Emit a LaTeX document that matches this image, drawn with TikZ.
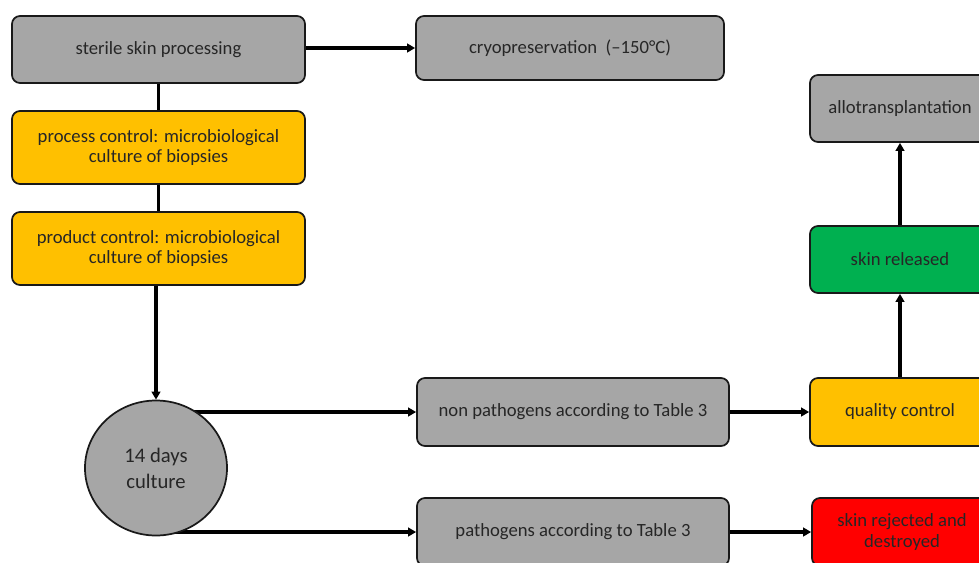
\documentclass[tikz,border=0pt]{standalone}
\usepackage{fontspec}
\setmainfont{Carlito}
\usetikzlibrary{arrows.meta,shapes.geometric,backgrounds}
\definecolor{boxgray}{HTML}{A6A6A6}
\definecolor{boxyellow}{HTML}{FFC000}
\definecolor{boxgreen}{HTML}{00B050}
\definecolor{boxred}{HTML}{FF0000}
\definecolor{ink}{HTML}{262626}
\tikzset{
  sz/.style 2 args={minimum width=#1*0.75pt, minimum height=#2*0.75pt},
  box/.style={draw=black!90, line width=1.3pt, rounded corners=6pt, align=center,
    text=ink, font=\fontsize{14}{15.5}\selectfont, inner sep=0pt},
  grayb/.style={box, fill=boxgray},
  yellowb/.style={box, fill=boxyellow},
  greenb/.style={box, fill=boxgreen},
  redb/.style={box, fill=boxred},
  circ/.style={ellipse, draw=black!90, line width=1.3pt, fill=boxgray, align=center,
    text=ink, font=\fontsize{15.5}{19.5}\selectfont, inner sep=0pt},
  conn/.style={line width=2.3pt, draw=black},
  arr/.style={conn, -{Triangle[length=6pt,width=6.5pt]}},
}
\begin{document}
\begin{tikzpicture}[x=0.75pt,y=-0.75pt]
\useasboundingbox (0,0) rectangle (979,562);
\clip (0,0) rectangle (979,562);
% nodes
\node[grayb, sz={293}{67}] (sterile) at (158.5,49.5) {sterile skin processing};
\node[grayb, sz={308}{64}] (cryo) at (570,48) {cryopreservation\ \ (--150°C)};
\node[yellowb, sz={293}{73}] (proc) at (158.5,147.5) {process control: microbiological\\culture of biopsies};
\node[yellowb, sz={293}{73}] (prod) at (158.5,248.5) {product control: microbiological\\culture of biopsies};
\node[circ, sz={142}{135}] (cult) at (156,468) {14 days\\culture};
\node[grayb, sz={312}{68}] (nonpath) at (573,412) {non pathogens according to Table 3};
\node[grayb, sz={312}{68}] (path) at (573,532) {pathogens according to Table 3};
\node[grayb, sz={180}{67}] (allo) at (900,108.5) {allotransplantation};
\node[greenb, sz={180}{67}] (released) at (900,259.5) {skin released};
\node[yellowb, sz={180}{68}] (qc) at (900,412) {quality control};
\node[redb, sz={180}{68}] (rejected) at (902,532) {skin rejected and\\destroyed};
% connectors
\draw[arr] (sterile.east |- cryo.west) -- (cryo.west);
\begin{scope}[on background layer]
\fill[white] (0,0) rectangle (979,562);
\draw[conn] (sterile.south) -- (proc.north);
\draw[conn] (proc.south) -- (prod.north);
\draw[arr] (nonpath.west -| cult.center) -- (nonpath.west);
\draw[arr] (path.west -| cult.center) -- (path.west);
\end{scope}
\draw[arr] (prod.south -| cult.north) -- (cult.north);
\draw[arr] (nonpath.east) -- (qc.west);
\draw[arr] (path.east) -- (rejected.west);
\draw[arr] (qc.north) -- (released.south);
\draw[arr] (released.north) -- (allo.south);
\end{tikzpicture}
\end{document}
